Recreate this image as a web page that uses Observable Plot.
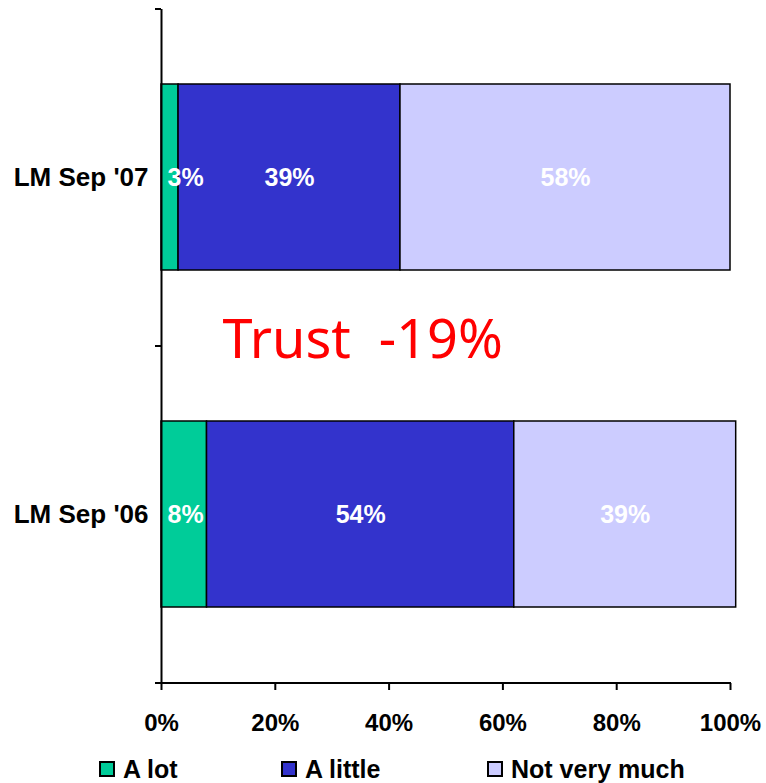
<!DOCTYPE html>
<html><head><meta charset="utf-8">
<script src="https://cdn.jsdelivr.net/npm/d3@7"></script>
<script src="https://cdn.jsdelivr.net/npm/@observablehq/plot@0.6"></script>
<style>
body{margin:0;background:#fff;font-family:"Liberation Sans",Arial,sans-serif;}
#chart svg{display:block;}
#legend{position:relative;width:766px;height:38px;}
.item{position:absolute;top:14px;height:20px;display:flex;align-items:center;font-weight:bold;font-size:25px;color:#000;line-height:20px;}
.sw{width:12px;height:12px;border:2px solid #000;margin-right:8px;flex:none;}
</style></head><body><div id="chart"></div><div id="legend"></div>
<script>
const categories = ["LM Sep '07", "LM Sep '06"];
const series = ["A lot", "A little", "Not very much"];
const aLot = [3, 8];
const aLittle = [39, 54];
const notVeryMuch = [58, 39];
const colors = ["#00CC99", "#3333CC", "#CCCCFF"];
const xTicks = [0, 20, 40, 60, 80, 100];
const annotationText = "Trust \u00A0-19%";
const annotationX = 10.7;

const values = [aLot, aLittle, notVeryMuch];
const data = series.flatMap((s, si) => categories.map((c, ci) => ({category: c, series: s, value: values[si][ci]})));

const font = '"Liberation Sans", Arial, sans-serif';
const plot = Plot.plot({
  width: 766, height: 745,
  marginLeft: 161, marginRight: 36, marginTop: 9, marginBottom: 62,
  style: {fontFamily: font, fontSize: "24px", fontWeight: "bold", color: "#000", background: "#fff", overflow: "visible"},
  x: {domain: [0, 100]},
  y: {domain: categories, paddingInner: 0.448, paddingOuter: 0.224, align: 0.5},
  color: {domain: series, range: colors},
  marks: [
    Plot.barX(data, Plot.stackX({x: "value", y: "category", fill: "series", order: series, stroke: "#000", strokeWidth: 1.5})),
    Plot.text(data, Plot.stackX({x: "value", y: "category", z: "series", order: series,
      text: d => d.series === "A lot" ? null : d.value + "%", fill: "#fff", fontSize: 25, fontWeight: "bold"})),
    Plot.text(data.filter(d => d.series === "A lot"), {x: 0, y: "category", text: d => d.value + "%",
      textAnchor: "start", dx: 6, fill: "#fff", fontSize: 25, fontWeight: "bold"}),
    Plot.text([annotationText], {x: annotationX, text: d => d, textAnchor: "start", dy: -6,
      fill: "#FF0000", fontSize: 54, fontWeight: "normal", fontFamily: '"Noto Sans", "Open Sans", sans-serif'}),
    Plot.ruleX([0], {stroke: "#000", strokeWidth: 2}),
    Plot.axisX({ticks: xTicks, tickFormat: d => d + "%", tickSize: 7, tickPadding: 23, strokeWidth: 2,
      fontSize: 24, fontWeight: "bold", label: null}),
    Plot.axisY({tickSize: 0, tickPadding: 13, fontSize: 26, fontWeight: "bold", label: null})
  ]
});

// axis line and category-boundary ticks, positioned from the plot's own scales
const ys = plot.scale("y"), xs = plot.scale("x");
const [r0, r1] = ys.range;
const x0 = xs.apply(0), x1 = xs.apply(100);
const svg = d3.select(plot);
const g = svg.append("g").attr("stroke", "#000").attr("stroke-width", 2);
g.append("line").attr("x1", x0 - 6).attr("x2", x1 + 1).attr("y1", r1).attr("y2", r1);
d3.range(categories.length + 1).forEach(i => {
  const yy = r0 + i * (r1 - r0) / categories.length;
  g.append("line").attr("x1", x0 - 6).attr("x2", x0).attr("y1", yy).attr("y2", yy);
});
document.getElementById("chart").appendChild(plot);

// legend
const legendLeft = [99, 281, 487];
const legend = document.getElementById("legend");
series.forEach((s, i) => {
  const item = document.createElement("div");
  item.className = "item";
  item.style.left = legendLeft[i] + "px";
  const sw = document.createElement("span");
  sw.className = "sw";
  sw.style.background = colors[i];
  item.appendChild(sw);
  item.appendChild(document.createTextNode(s));
  legend.appendChild(item);
});
</script></body></html>
